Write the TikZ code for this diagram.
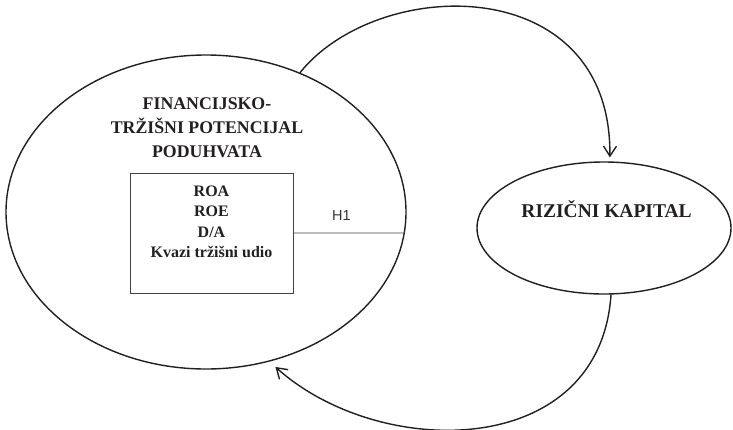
\documentclass[tikz,border=0pt]{standalone}
\usepackage{fontspec}
\setmainfont{Liberation Serif}
\newfontfamily\labelfont{Liberation Sans}
\usetikzlibrary{
  arrows.meta,
  positioning,
  shapes.geometric
}
\definecolor{ink}{HTML}{231F20}
\tikzset{
  oval/.style={draw=ink, ellipse, inner sep=0pt, line width=1.4pt},
  title/.style={align=center, inner sep=0pt, text=ink},
  box/.style={draw=ink!85, line width=0.8pt, inner sep=0pt},
  flow/.style={draw=ink, line width=1.4pt,
    -{Straight Barb[length=10pt, width=13pt]}},
}

\begin{document}
\begin{tikzpicture}[x=1pt, y=-1pt]
  \useasboundingbox (0,0) rectangle (733,429);
  \node[oval, minimum width=400pt, minimum height=314pt] (firm) at (206,212) {};
  \node[oval, minimum width=254pt, minimum height=132pt] (risk) at (604,228) {};
  \node[title, font=\bfseries\fontsize{17.8}{24}\selectfont] (firmlabel) at (207,128) {
    FINANCIJSKO-\\
    TRŽIŠNI POTENCIJAL\\
    PODUHVATA
  };
  \node[title, font=\bfseries\fontsize{19.5}{23}\selectfont] (risklabel) at (609,209) {
    RIZIČNI KAPITAL
  };
  \node[box, minimum width=163pt, minimum height=120pt] (metrics) at (211.5,233) {};
  \node[title, font=\bfseries\fontsize{16}{20.5}\selectfont,
    below=13pt of metrics.north] (list) {
    ROA\\
    ROE\\
    D/A\\
    Kvazi tržišni udio
  };

  \draw[box] (metrics.east) -- (firm.-6)
    node[pos=0.43, above=12pt, inner sep=0pt, text=ink!90,
      font=\labelfont\fontsize{14.5}{16}\selectfont] (hyp) {H1};
  \draw[flow, shorten >=4pt] (firm.56)
    .. controls +(79,-98) and +(2,-190) .. (risk.85);
  \draw[flow, shorten >=8pt] (risk.-84)
    .. controls +(-11,166) and +(110,99) .. (firm.-67);
\end{tikzpicture}
\end{document}
